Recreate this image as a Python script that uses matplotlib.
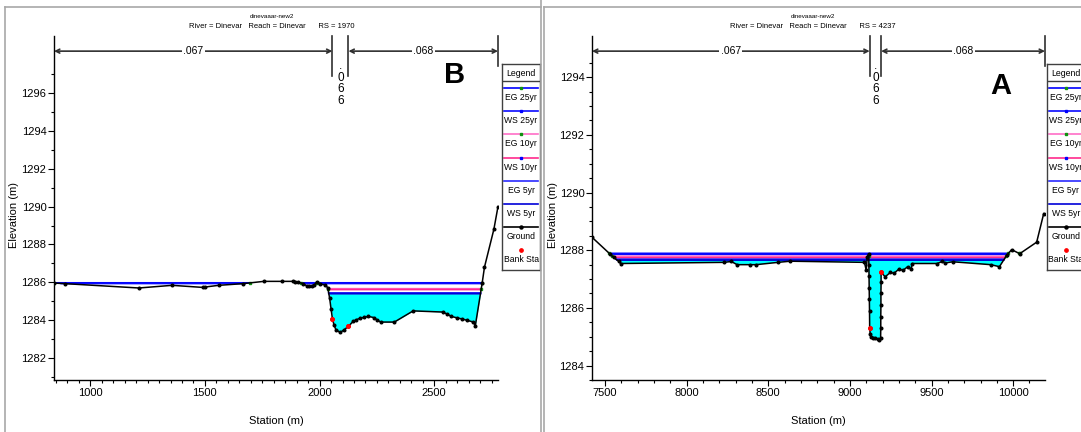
import numpy as np
import matplotlib.pyplot as plt
import matplotlib.transforms as mtransforms
from matplotlib.lines import Line2D
from matplotlib.ticker import MultipleLocator

# font (HEC-RAS style narrow sans); falls back to Liberation Sans if no narrow face
plt.rcParams['font.family'] = ['Liberation Sans Narrow', 'DejaVu Sans Condensed',
                               'Liberation Sans', 'DejaVu Sans']

W, H = 1081, 432

# ---------------- data: cross section B (RS 1970) ----------------
sta_b = [842, 889, 1212, 1357, 1492, 1500, 1560, 1667, 1757, 1835, 1883, 1895, 1905,
         1928, 1943, 1955, 1965, 1976, 1988, 2003, 2025, 2036, 2044, 2050, 2056, 2063,
         2071, 2090, 2108, 2126, 2146, 2160, 2176, 2195, 2213, 2236, 2250, 2266, 2326,
         2408, 2536, 2555, 2574, 2600, 2619, 2641, 2671, 2679, 2709, 2719, 2760, 2778]
elev_b = [1285.96, 1285.93, 1285.70, 1285.84, 1285.73, 1285.75, 1285.84, 1285.93, 1286.05,
          1286.05, 1286.05, 1286.04, 1286.02, 1285.93, 1285.82, 1285.80, 1285.82, 1285.84,
          1286.02, 1285.90, 1285.87, 1285.70, 1285.15, 1284.60, 1284.07, 1283.75, 1283.50,
          1283.35, 1283.50, 1283.68, 1283.93, 1284.02, 1284.10, 1284.15, 1284.20, 1284.14,
          1284.02, 1283.90, 1283.90, 1284.49, 1284.43, 1284.33, 1284.20, 1284.12, 1284.07,
          1284.00, 1283.90, 1283.70, 1285.96, 1286.80, 1288.80, 1290.00]
bank_sta_b = [2056, 2126]
bank_elev_b = [1284.07, 1283.68]
# EG 25yr, WS 25yr, EG 10yr, WS 10yr, EG 5yr, WS 5yr
levels_b = [1285.97, 1285.94, 1285.66, 1285.62, 1285.44, 1285.40]

# ---------------- data: cross section A (RS 4237) ----------------
sta_a = [7420, 7532, 7553, 7585, 7595, 8231, 8273, 8309, 8390, 8426, 8560, 8634, 9089,
         9100, 9106, 9115, 9116, 9117, 9118, 9119, 9120, 9121, 9124, 9128, 9140, 9155,
         9170, 9180, 9188, 9189, 9189, 9190, 9190, 9191, 9191, 9216, 9248, 9270, 9301,
         9325, 9354, 9375, 9382, 9534, 9566, 9585, 9630, 9863, 9916, 9962, 9991, 10040,
         10144, 10187]
elev_a = [1288.45, 1287.86, 1287.75, 1287.61, 1287.54, 1287.58, 1287.61, 1287.50, 1287.50,
          1287.50, 1287.58, 1287.62, 1287.58, 1287.30, 1287.75, 1287.88, 1287.50, 1287.10,
          1286.70, 1286.30, 1285.90, 1285.32, 1285.10, 1284.98, 1284.97, 1284.96, 1284.93,
          1284.88, 1284.97, 1285.30, 1285.70, 1286.10, 1286.50, 1286.90, 1287.23, 1287.08,
          1287.23, 1287.20, 1287.35, 1287.30, 1287.43, 1287.35, 1287.54, 1287.54, 1287.61,
          1287.56, 1287.60, 1287.50, 1287.43, 1287.84, 1288.02, 1287.88, 1288.28, 1289.27]
bank_sta_a = [9121, 9191]
bank_elev_a = [1285.32, 1287.23]
levels_a = [1287.89, 1287.86, 1287.79, 1287.74, 1287.69, 1287.66]

profile_names = ['EG 25yr', 'WS 25yr', 'EG 10yr', 'WS 10yr', 'EG 5yr', 'WS 5yr']
profile_colors = ['#0000ff', '#0a0aff', '#ff6ec7', '#ff2a8c', '#2a2aff', '#0000d8']
n_values = ['.067', '.066', '.068']
title_top = 'dinevaaar-new2'
title_b = 'River = Dinevar   Reach = Dinevar      RS = 1970'
title_a = 'River = Dinevar   Reach = Dinevar      RS = 4237'


def px_rect(l, t, r, b):
    return [l / W, 1 - b / H, (r - l) / W, (b - t) / H]


def fx(x):
    return x / W


def fy(y):
    return 1 - y / H


def draw_section(ax, sta, elev, levels, bank_sta, bank_elev):
    grid = np.linspace(sta[0], sta[-1], 6000)
    g = np.interp(grid, sta, elev)
    # cyan fill under lowest water surface
    ax.fill_between(grid, g, levels[-1], where=g < levels[-1], interpolate=True,
                    color='#00ffff', lw=0, zorder=1)
    for i, lev in enumerate(levels):
        wet = g <= lev
        y = np.where(wet, lev, np.nan)
        ax.plot(grid, y, color=profile_colors[i], lw=1.3, zorder=2)
        if i in (0, 2):  # green markers at the ends of EG lines
            d = np.diff(wet.astype(int))
            ends = list(np.flatnonzero(d == 1) + 1) + list(np.flatnonzero(d == -1))
            if wet[0]:
                ends.append(0)
            if wet[-1]:
                ends.append(len(grid) - 1)
            ax.plot(grid[ends], [lev] * len(ends), 's', color='#109010', ms=2.0, zorder=3)
    ax.plot(sta, elev, color='black', lw=1.1, marker='o', ms=1.9, zorder=4)
    ax.plot(bank_sta, bank_elev, 'o', color='red', ms=2.6, zorder=5)


def n_value_marks(ax, bank_sta):
    tr = mtransforms.blended_transform_factory(ax.transData, ax.transAxes)
    x0, x1 = ax.get_xlim()
    y_arr = 0.956
    for (a, b), lab in zip([(x0, bank_sta[0]), (bank_sta[1], x1)], [n_values[0], n_values[2]]):
        ax.annotate('', xy=(b, y_arr), xytext=(a, y_arr), xycoords=tr, textcoords=tr,
                    arrowprops=dict(arrowstyle='<->', color='#303030', lw=1.2,
                                    shrinkA=0, shrinkB=0, mutation_scale=7))
        ax.text((a + b) / 2, y_arr, lab, transform=tr, ha='center', va='center',
                fontsize=7.5, bbox=dict(fc='white', ec='none', pad=1.0), zorder=6)
    for b in bank_sta:
        ax.plot([b, b], [0.884, 1.0], transform=tr, color='#303030', lw=1.2, clip_on=False)
    ax.plot([x1, x1], [0.913, 1.0], transform=tr, color='#303030', lw=1.2, clip_on=False)
    ax.text(np.mean(bank_sta), 0.93, '\n'.join(n_values[1]), transform=tr, ha='center',
            va='top', fontsize=8.5, linespacing=0.95)


def style_axes(ax, xlim, ylim, xmajor, xminor, ymajor, yminor):
    ax.set_xlim(xlim)
    ax.set_ylim(ylim)
    ax.set_xticks(xmajor)
    ax.xaxis.set_minor_locator(MultipleLocator(xminor))
    ax.set_yticks(ymajor)
    ax.set_yticks(yminor, minor=True)
    for s in ['top', 'right']:
        ax.spines[s].set_visible(False)
    for s in ['left', 'bottom']:
        ax.spines[s].set_linewidth(1.0)
    ax.tick_params(which='major', direction='out', length=4, width=0.8, labelsize=8, pad=1.5)
    ax.tick_params(which='minor', direction='out', length=2.5, width=0.8)


def draw_legend(leg):
    leg.set_xlim(0, 38)
    leg.set_ylim(206, 0)
    leg.set_xticks([])
    leg.set_yticks([])
    for s in leg.spines.values():
        s.set_color('#404040')
        s.set_linewidth(1.0)
    leg.text(19, 9, 'Legend', ha='center', va='center', fontsize=6.3)
    leg.plot([0, 38], [16.5, 16.5], color='#404040', lw=1.0)
    mk = ['#109010', '#0000ff', '#109010', '#0000ff', None, None]
    for i, name in enumerate(profile_names):
        yl = 24 + 23.2 * i
        leg.plot([2, 36], [yl, yl], color=profile_colors[i], lw=1.2)
        if mk[i]:
            leg.plot([19], [yl], 's', color=mk[i], ms=2)
        leg.text(19, yl + 9.5, name, ha='center', va='center', fontsize=6.2)
    yl = 24 + 23.2 * 6
    leg.plot([2, 36], [yl, yl], color='black', lw=1.2)
    leg.plot([19], [yl], 'o', color='black', ms=2.2)
    leg.text(19, yl + 9.5, 'Ground', ha='center', va='center', fontsize=6.2)
    yl = 24 + 23.2 * 7
    leg.plot([19], [yl], 'o', color='red', ms=2.4)
    leg.text(19, yl + 9.5, 'Bank Sta', ha='center', va='center', fontsize=6.2)


fig = plt.figure(figsize=(W / 100, H / 100), dpi=100)

# ---- panel B (left) ----
ax_b = fig.add_axes(px_rect(54, 36, 498, 380))
draw_section(ax_b, sta_b, elev_b, levels_b, bank_sta_b, bank_elev_b)
style_axes(ax_b, (842, 2778), (1280.84, 1299.01), [1000, 1500, 2000, 2500], 50,
           np.arange(1282, 1297, 2), np.arange(1281, 1298, 1))
n_value_marks(ax_b, bank_sta_b)
draw_legend(fig.add_axes(px_rect(502, 64, 540, 270)))

# ---- panel A (right) ----
ax_a = fig.add_axes(px_rect(592, 36, 1045, 380))
draw_section(ax_a, sta_a, elev_a, levels_a, bank_sta_a, bank_elev_a)
style_axes(ax_a, (7420, 10195), (1283.69, 1295.43), [7500, 8000, 8500, 9000, 9500, 10000], 100,
           np.arange(1284, 1295, 2), np.arange(1283.5, 1295.0, 0.5))
n_value_marks(ax_a, bank_sta_a)
draw_legend(fig.add_axes(px_rect(1047, 64, 1085, 270)))

# titles, labels, panel letters
for cx, ttl in [(272, title_b), (813, title_a)]:
    fig.text(fx(cx), fy(16), title_top, ha='center', va='center', fontsize=4.5)
    fig.text(fx(cx), fy(27), ttl, ha='center', va='center', fontsize=5.5)
for cx, ex in [(276, 14), (818, 553)]:
    fig.text(fx(cx), fy(421), 'Station (m)', ha='center', va='center', fontsize=8)
    fig.text(fx(ex), fy(215), 'Elevation (m)', ha='center', va='center', fontsize=8,
             rotation=90)
fig.text(fx(455), fy(75), 'B', ha='center', va='center', fontsize=21, weight='bold',
         family=['Liberation Sans', 'DejaVu Sans'])
fig.text(fx(1001), fy(86), 'A', ha='center', va='center', fontsize=21, weight='bold',
         family=['Liberation Sans', 'DejaVu Sans'])

# screenshot frame lines
gray = '#a8a8a8'
for xs, ys in [([5, 541], [7, 7]), ([544, 1081], [7, 7]), ([5, 5], [7, 432]),
               ([541, 541], [0, 432]), ([544, 544], [7, 432])]:
    fig.add_artist(Line2D([fx(x) for x in xs], [fy(y) for y in ys], color=gray, lw=1.2))

fig.savefig('out.png', dpi=100)
